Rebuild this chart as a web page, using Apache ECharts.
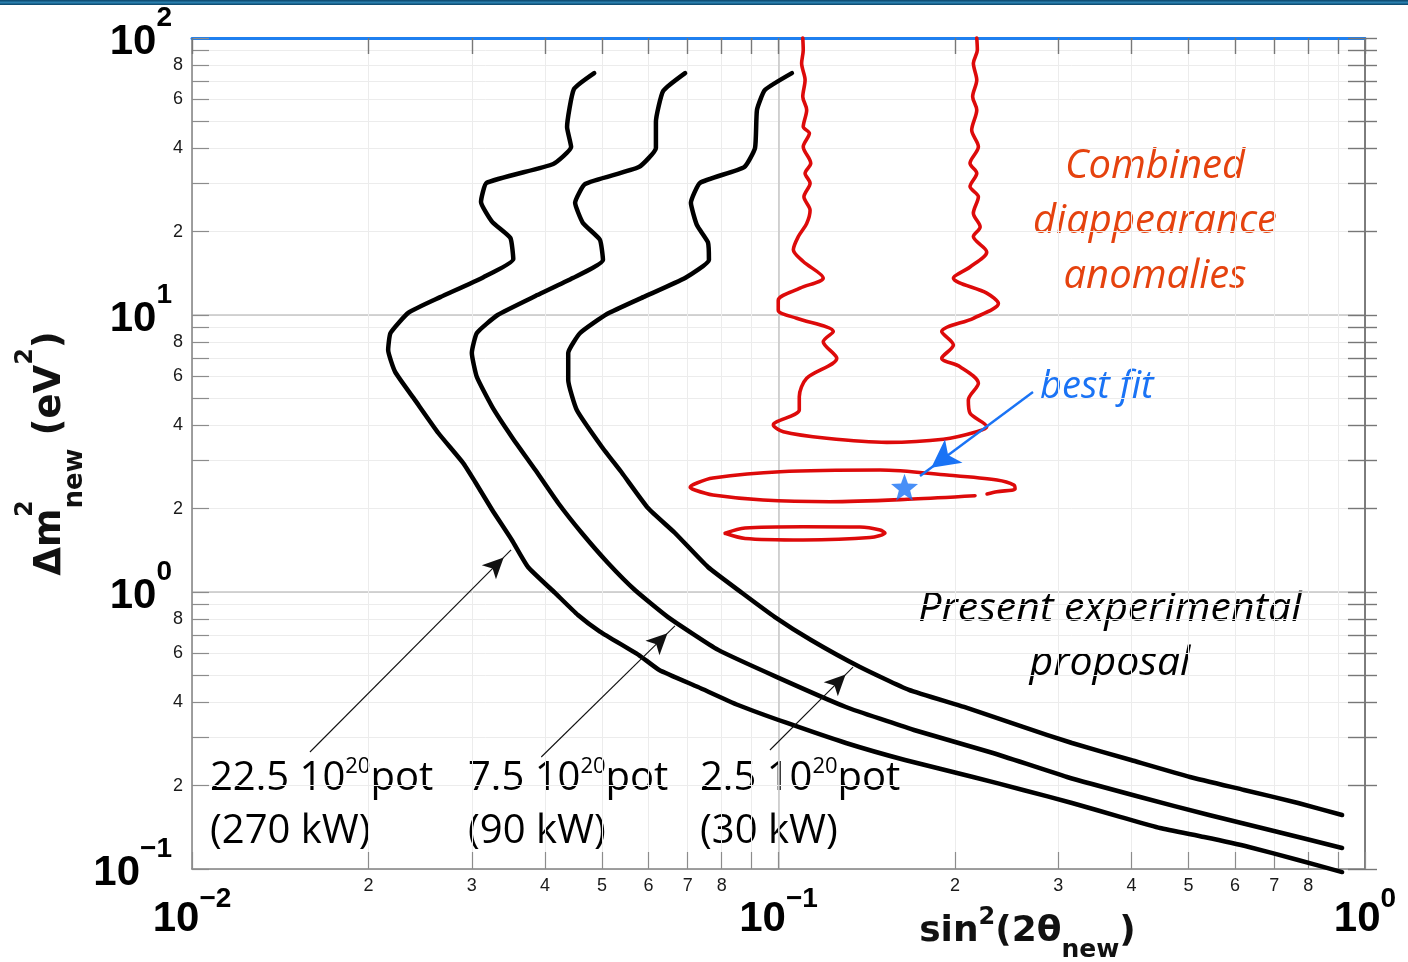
<!DOCTYPE html>
<html>
<head>
<meta charset="utf-8">
<title>Sterile neutrino sensitivity</title>
<script src="https://cdn.jsdelivr.net/npm/echarts@6/dist/echarts.min.js"></script>
<style>
  html, body { margin: 0; padding: 0; background: #ffffff; }
  #chart { width: 1408px; height: 962px; }
</style>
</head>
<body>
<div id="chart"></div>
<script>
// ---- Data: [sin²(2θ_new), Δm²_new (eV²)] ----
// Sensitivity curve, 22.5e20 POT (270 kW)
const curve270kW = [
  [0.0485, 74.7], [0.0448, 65.4], [0.0436, 47.7], [0.0443, 40.4], [0.0413, 35.1],
  [0.0318, 30.0], [0.0311, 25.6], [0.0325, 21.7], [0.0349, 19.0], [0.0353, 15.9],
  [0.0314, 13.7], [0.0265, 11.6], [0.0234, 10.2], [0.0218, 8.61], [0.0216, 7.47],
  [0.0222, 6.23], [0.0240, 4.93], [0.0263, 3.75], [0.0290, 2.92], [0.0304, 2.495],
  [0.0325, 1.977], [0.0351, 1.541], [0.0374, 1.231], [0.0416, 0.992], [0.0455, 0.826],
  [0.0496, 0.72], [0.0578, 0.592], [0.0626, 0.523], [0.0729, 0.454], [0.0853, 0.391],
  [0.1034, 0.3366], [0.1303, 0.285], [0.1643, 0.2474], [0.2146, 0.2149], [0.2612, 0.1929],
  [0.3165, 0.1731], [0.3837, 0.1540], [0.4471, 0.1406], [0.5316, 0.1305], [0.634, 0.1201],
  [0.769, 0.1078], [0.914, 0.0975]
];
// Sensitivity curve, 7.5e20 POT (90 kW)
const curve90kW = [
  [0.0693, 74.7], [0.0636, 64.4], [0.0618, 49.8], [0.0618, 40.1], [0.0578, 34.2],
  [0.0468, 29.7], [0.0450, 25.4], [0.0464, 21.5], [0.0496, 18.7], [0.0502, 15.8],
  [0.0446, 13.6], [0.0388, 11.8], [0.0332, 10.0], [0.0306, 8.61], [0.0300, 7.29],
  [0.0306, 5.97], [0.0325, 4.66], [0.0351, 3.63], [0.0385, 2.756], [0.0421, 2.096],
  [0.0462, 1.633], [0.0512, 1.273], [0.0569, 1.017], [0.0648, 0.812], [0.0789, 0.618],
  [0.0994, 0.493], [0.1303, 0.3845], [0.1702, 0.3176], [0.2321, 0.2623], [0.3104, 0.2149],
  [0.4135, 0.1820], [0.5420, 0.1566], [0.7107, 0.1360], [0.914, 0.1191]
];
// Sensitivity curve, 2.5e20 POT (30 kW)
const curve30kW = [
  [0.1054, 74.7], [0.0948, 64.9], [0.0919, 55.0], [0.0912, 40.1], [0.0874, 34.2],
  [0.0735, 30.0], [0.0709, 25.4], [0.0726, 21.1], [0.0758, 18.3], [0.0761, 15.8],
  [0.0693, 13.6], [0.0588, 11.6], [0.0510, 10.08], [0.0459, 8.61], [0.0438, 7.29],
  [0.0438, 5.83], [0.0453, 4.54], [0.0500, 3.338], [0.0541, 2.689], [0.0599, 2.010],
  [0.0666, 1.633], [0.0758, 1.231], [0.0867, 0.992], [0.0986, 0.812], [0.1136, 0.671],
  [0.1377, 0.536], [0.1669, 0.443], [0.2072, 0.3845], [0.2612, 0.3256], [0.3165, 0.285],
  [0.3990, 0.2474], [0.5030, 0.2149], [0.622, 0.1929], [0.769, 0.1731], [0.914, 0.1566]
];
// Combined disappearance anomalies: allowed region (open at the top)
const anomalyContourUpper = [
  [0.1100, 100], [0.1102, 90.5], [0.1095, 81.0], [0.1110, 70.5], [0.1100, 61.4],
  [0.1117, 55.0], [0.1102, 47.8], [0.1129, 45.3], [0.1102, 40.5], [0.1135, 35.3],
  [0.1110, 32.5], [0.1132, 29.9], [0.1105, 26.7], [0.1132, 23.9], [0.1117, 21.4],
  [0.1081, 19.2], [0.1060, 17.2], [0.1102, 15.6], [0.1192, 13.6], [0.1088, 12.5],
  [0.0999, 11.3], [0.0999, 10.4], [0.1074, 9.73], [0.1240, 8.71], [0.1192, 8.01],
  [0.1257, 6.98], [0.1117, 5.91], [0.1085, 5.07], [0.1085, 4.54], [0.0980, 4.01],
  [0.1019, 3.79], [0.1208, 3.59], [0.1530, 3.47], [0.1910, 3.56], [0.2178, 3.79],
  [0.2265, 3.95], [0.2121, 4.42], [0.2107, 4.93], [0.2192, 5.67], [0.2039, 6.51],
  [0.1898, 6.98], [0.1987, 7.79], [0.1898, 8.71], [0.2149, 9.73], [0.2371, 11.0],
  [0.2265, 12.0], [0.1987, 13.6], [0.2121, 14.9], [0.2265, 16.9], [0.2149, 19.2],
  [0.2207, 20.8], [0.2149, 23.3], [0.2192, 26.7], [0.2121, 29.1], [0.2178, 32.5],
  [0.2121, 35.3], [0.2192, 40.5], [0.2135, 46.5], [0.2178, 55.0], [0.2143, 61.4],
  [0.2178, 70.5], [0.2149, 81.0], [0.2183, 90.5], [0.2178, 100]
];
// Allowed island around the best fit (drawn with a small gap on its lower right)
const anomalyContourMiddle = [
  [0.2163, 2.227], [0.1696, 2.166], [0.1224, 2.118], [0.0941, 2.148], [0.0773, 2.239],
  [0.0720, 2.334], [0.0707, 2.388], [0.0726, 2.475], [0.0773, 2.580], [0.1006, 2.718],
  [0.1490, 2.756], [0.1938, 2.645], [0.2358, 2.536], [0.2521, 2.433], [0.2531, 2.354],
  [0.2358, 2.302], [0.2268, 2.258]
];
// Lower allowed island
const anomalyContourLower = [
  [0.0811, 1.629], [0.0877, 1.702], [0.1101, 1.721], [0.1377, 1.717], [0.1490, 1.674],
  [0.1519, 1.633], [0.1432, 1.573], [0.1101, 1.541], [0.0877, 1.560], [0.0811, 1.629]
];
// Best-fit point
const bestFit = [0.164, 2.39];
// Arrow annotations: [from, to]
const arrow270kW = [[0.01589, 0.2645], [0.0350, 1.418]];
const arrow90kW = [[0.0394, 0.2537], [0.0666, 0.754]];
const arrow30kW = [[0.0967, 0.2689], [0.1340, 0.536]];
const arrowBestFit = [[0.2716, 5.27], [0.1743, 2.623]];

// ---- Axis ranges and tick values ----
const xRange = [0.01, 1];
const yRange = [0.1, 100];
const xTickValues = [0.01, 0.02, 0.03, 0.04, 0.05, 0.06, 0.07, 0.08, 0.09,
  0.1, 0.2, 0.3, 0.4, 0.5, 0.6, 0.7, 0.8, 0.9, 1];
const xMinorLabels = [0.02, 0.03, 0.04, 0.05, 0.06, 0.07, 0.08,
  0.2, 0.3, 0.4, 0.5, 0.6, 0.7, 0.8];
const xDecadeLabels = [0.01, 0.1, 1];
const yTickValues = [0.1, 0.2, 0.3, 0.4, 0.5, 0.6, 0.7, 0.8, 0.9,
  1, 2, 3, 4, 5, 6, 7, 8, 9, 10, 20, 30, 40, 50, 60, 70, 80, 90, 100];
const yMinorLabels = [0.2, 0.4, 0.6, 0.8, 2, 4, 6, 8, 20, 40, 60, 80];
const yDecadeLabels = [0.1, 1, 10, 100];
const xDecadeGrid = [0.1];
const yDecadeGrid = [1, 10];

// ---- Helpers ----
const SANS = '"Liberation Sans", Arial, Helvetica, sans-serif';
const NAME_FONT = '"DejaVu Sans", sans-serif';
const TEXT_FONT = '"Open Sans", sans-serif';

function exponentText(v) {
  const e = Math.round(Math.log10(v));
  return e < 0 ? '\u2212' + (-e) : String(e);
}
function mantissa(v) {
  const e = Math.floor(Math.log10(v) + 1e-9);
  return String(Math.round(v / Math.pow(10, e)));
}
function decadeFormatter(v) {
  return '{maj|10}{exp|' + exponentText(v) + '}';
}

function decadeRich(shiftDown) {
  return {
    maj: { fontFamily: SANS, fontSize: 42, fontWeight: 'bold', lineHeight: 44, color: '#000', padding: [shiftDown, 0, 0, 0] },
    exp: { fontFamily: SANS, fontSize: 28, fontWeight: 'bold', lineHeight: 30, color: '#000', padding: [0, 0, 40, 0] }
  };
}
const minorLabelStyle = { fontFamily: SANS, fontSize: 18, color: '#1a1a1a' };

function logAxis(range, extra) {
  return Object.assign({
    type: 'log', logBase: 10, min: range[0], max: range[1],
    gridIndex: 0, nameMoveOverlap: false,
    minorTick: { show: false }, minorSplitLine: { show: false },
    axisPointer: { show: false }
  }, extra);
}

function arrowMark(arrows, color, width, headSize) {
  return {
    silent: true, animation: false, precision: 6,
    symbol: ['none', 'arrow'],
    label: { show: false },
    emphasis: { disabled: true },
    lineStyle: { color, width, type: 'solid' },
    itemStyle: { color },
    data: arrows.map(a => [
      { coord: a[0], symbol: 'none' },
      { coord: a[1], symbol: 'arrow', symbolSize: headSize, symbolOffset: [0, headSize[1] / 2] }
    ])
  };
}
function curveSeries(name, data, arrow) {
  return {
    name, type: 'line', data, xAxisIndex: 0, yAxisIndex: 0,
    symbol: 'none', showSymbol: false, smooth: 0.15, clip: false, z: 4,
    lineStyle: { color: '#000', width: 4.5, join: 'round', cap: 'round' },
    markLine: arrowMark([arrow], '#111', 1.1, [15, 21])
  };
}
function contourSeries(name, data) {
  return {
    name, type: 'line', data, xAxisIndex: 0, yAxisIndex: 0,
    symbol: 'none', showSymbol: false, smooth: 0.3, clip: false, z: 3,
    lineStyle: { color: '#dd0a0a', width: 3.6, join: 'round', cap: 'round' }
  };
}

const potRich = {
  n: { fontFamily: TEXT_FONT, fontSize: 40, lineHeight: 53, fill: '#000' },
  s: { fontFamily: TEXT_FONT, fontSize: 22, lineHeight: 24, fill: '#000', padding: [0, 0, 24, 0] }
};

const chart = echarts.init(document.getElementById('chart'), null, { renderer: 'canvas' });

const option = {
  backgroundColor: '#ffffff',
  animation: false,
  textStyle: { fontFamily: SANS },
  grid: { left: 192, right: 43, top: 38, bottom: 93, containLabel: false, outerBoundsMode: 'none' },
  xAxis: [
    // bottom axis: ticks, minor labels, light grid, title
    logAxis(xRange, {
      position: 'bottom',
      axisLine: { show: true, lineStyle: { color: '#808080', width: 1.5 } },
      axisTick: { show: true, inside: true, length: 17, customValues: xTickValues,
        lineStyle: { color: '#8c8c8c', width: 1.2 } },
      axisLabel: { show: true, customValues: xMinorLabels, formatter: mantissa,
        margin: 8, showMinLabel: true, showMaxLabel: true, hideOverlap: false, ...minorLabelStyle },
      splitLine: { show: true, lineStyle: { color: '#ececec', width: 1 } },
      name: '{t|sin}{up|2}{t|(2\u03b8}{lo|new}{t|)}',
      nameLocation: 'middle', nameGap: 43,
      nameTextStyle: {
        padding: [0, 0, 0, 498],
        rich: {
          t: { fontFamily: NAME_FONT, fontSize: 36, fontWeight: 'bold', lineHeight: 40, color: '#111' },
          up: { fontFamily: NAME_FONT, fontSize: 24, fontWeight: 'bold', lineHeight: 26, color: '#111', padding: [0, 0, 29, 0] },
          lo: { fontFamily: NAME_FONT, fontSize: 25, fontWeight: 'bold', lineHeight: 28, color: '#111', padding: [37, 0, 0, 0] }
        }
      }
    }),
    // top frame: blue edge with inward ticks
    logAxis(xRange, {
      position: 'top',
      axisLine: { show: true, lineStyle: { color: '#1f80f0', width: 3 } },
      axisTick: { show: true, inside: true, length: 16, customValues: xTickValues,
        lineStyle: { color: '#777', width: 1.4 } },
      axisLabel: { show: false },
      splitLine: { show: false }
    }),
    // decade labels and darker decade grid line
    logAxis(xRange, {
      position: 'bottom',
      axisLine: { show: false },
      axisTick: { show: false, customValues: xDecadeGrid },
      axisLabel: { show: true, customValues: xDecadeLabels, formatter: decadeFormatter,
        margin: 28, showMinLabel: true, showMaxLabel: true, hideOverlap: false, rich: decadeRich(0) },
      splitLine: { show: true, lineStyle: { color: '#c6c6c6', width: 1.5 } }
    })
  ],
  yAxis: [
    // left axis: ticks, minor labels, light grid, title
    logAxis(yRange, {
      position: 'left',
      axisLine: { show: true, lineStyle: { color: '#808080', width: 1.5 } },
      axisTick: { show: true, inside: true, length: 17, customValues: yTickValues,
        lineStyle: { color: '#8c8c8c', width: 1.2 } },
      axisLabel: { show: true, customValues: yMinorLabels, formatter: mantissa,
        margin: 9, showMinLabel: true, showMaxLabel: true, hideOverlap: false, ...minorLabelStyle },
      splitLine: { show: true, lineStyle: { color: '#ececec', width: 1 } },
      name: '{t|\u0394m}{up|2}{lo|new}{t| (eV}{up2|2}{t|)}',
      nameLocation: 'middle', nameRotate: 90, nameGap: 122,
      nameTextStyle: {
        rich: {
          t: { fontFamily: NAME_FONT, fontSize: 37, fontWeight: 'bold', lineHeight: 40, color: '#111' },
          up: { fontFamily: NAME_FONT, fontSize: 24, fontWeight: 'bold', lineHeight: 26, color: '#111', width: 0, padding: [0, 0, 48, 0] },
          lo: { fontFamily: NAME_FONT, fontSize: 26, fontWeight: 'bold', lineHeight: 28, color: '#111', padding: [50, 0, 0, 0] },
          up2: { fontFamily: NAME_FONT, fontSize: 24, fontWeight: 'bold', lineHeight: 26, color: '#111', padding: [0, 0, 48, 0] }
        }
      }
    }),
    // right frame: inward ticks
    logAxis(yRange, {
      position: 'right',
      axisLine: { show: true, lineStyle: { color: '#707070', width: 1.8 } },
      axisTick: { show: true, inside: true, length: 17, customValues: yTickValues,
        lineStyle: { color: '#777', width: 1.4 } },
      axisLabel: { show: false },
      splitLine: { show: false }
    }),
    // right frame: outward ticks
    logAxis(yRange, {
      position: 'right',
      axisLine: { show: false },
      axisTick: { show: true, inside: false, length: 12, customValues: yTickValues,
        lineStyle: { color: '#777', width: 1.4 } },
      axisLabel: { show: false },
      splitLine: { show: false }
    }),
    // decade labels and darker decade grid lines
    logAxis(yRange, {
      position: 'left',
      axisLine: { show: false },
      axisTick: { show: false, customValues: yDecadeGrid },
      axisLabel: { show: true, customValues: yDecadeLabels, formatter: decadeFormatter,
        margin: 20, showMinLabel: true, showMaxLabel: true, hideOverlap: false, rich: decadeRich(8) },
      splitLine: { show: true, lineStyle: { color: '#c6c6c6', width: 1.5 } }
    })
  ],
  series: [
    contourSeries('Combined disappearance anomalies', anomalyContourUpper),
    contourSeries('Combined disappearance anomalies (island)', anomalyContourMiddle),
    contourSeries('Combined disappearance anomalies (lower island)', anomalyContourLower),
    curveSeries('22.5e20 POT (270 kW)', curve270kW, arrow270kW),
    curveSeries('7.5e20 POT (90 kW)', curve90kW, arrow90kW),
    curveSeries('2.5e20 POT (30 kW)', curve30kW, arrow30kW),
    {
      name: 'best fit', type: 'scatter', data: [bestFit], xAxisIndex: 0, yAxisIndex: 0, z: 6,
      symbol: 'path://M12,0.8 L14.9,8.6 L23.2,8.9 L16.7,14.1 L19,22.1 L12,17.5 L5,22.1 L7.3,14.1 L0.8,8.9 L9.1,8.6 Z',
      symbolSize: 27,
      itemStyle: { color: '#1a73f5' },
      markLine: arrowMark([arrowBestFit], '#1a73f5', 2.4, [22, 28])
    }
  ],
  graphic: [
    {
      type: 'rect', left: 0, top: 0, silent: true,
      shape: { width: 1408, height: 5 },
      style: { fill: new echarts.graphic.LinearGradient(0, 0, 0, 1, [
        { offset: 0, color: '#0a4468' }, { offset: 0.5, color: '#2a7fae' }, { offset: 1, color: '#0a4468' }
      ]) }
    },
    {
      type: 'text', x: 1155, y: 139, silent: true,
      style: { text: 'Combined\ndiappearance\nanomalies', fill: '#e5420e',
        font: 'italic 40px "Open Sans", sans-serif', align: 'center', verticalAlign: 'top', lineHeight: 55 }
    },
    {
      type: 'text', x: 1040, y: 387, silent: true,
      style: { text: 'best fit', fill: '#1a73f5',
        font: 'italic 38px "Open Sans", sans-serif', align: 'left', verticalAlign: 'middle' }
    },
    {
      type: 'text', x: 1110, y: 582, silent: true,
      style: { text: 'Present experimental\nproposal', fill: '#000',
        font: 'italic 41px "Open Sans", sans-serif', align: 'center', verticalAlign: 'top', lineHeight: 54 }
    },
    {
      type: 'text', x: 210, y: 752, silent: true,
      style: { text: '{n|22.5 10}{s|20}{n|pot}\n{n|(270 kW)}', rich: potRich, fill: '#000', align: 'left', verticalAlign: 'top' }
    },
    {
      type: 'text', x: 468, y: 752, silent: true,
      style: { text: '{n|7.5 10}{s|20}{n|pot}\n{n|(90 kW)}', rich: potRich, fill: '#000', align: 'left', verticalAlign: 'top' }
    },
    {
      type: 'text', x: 700, y: 752, silent: true,
      style: { text: '{n|2.5 10}{s|20}{n|pot}\n{n|(30 kW)}', rich: potRich, fill: '#000', align: 'left', verticalAlign: 'top' }
    }
  ]
};

chart.setOption(option);
</script>
</body>
</html>
